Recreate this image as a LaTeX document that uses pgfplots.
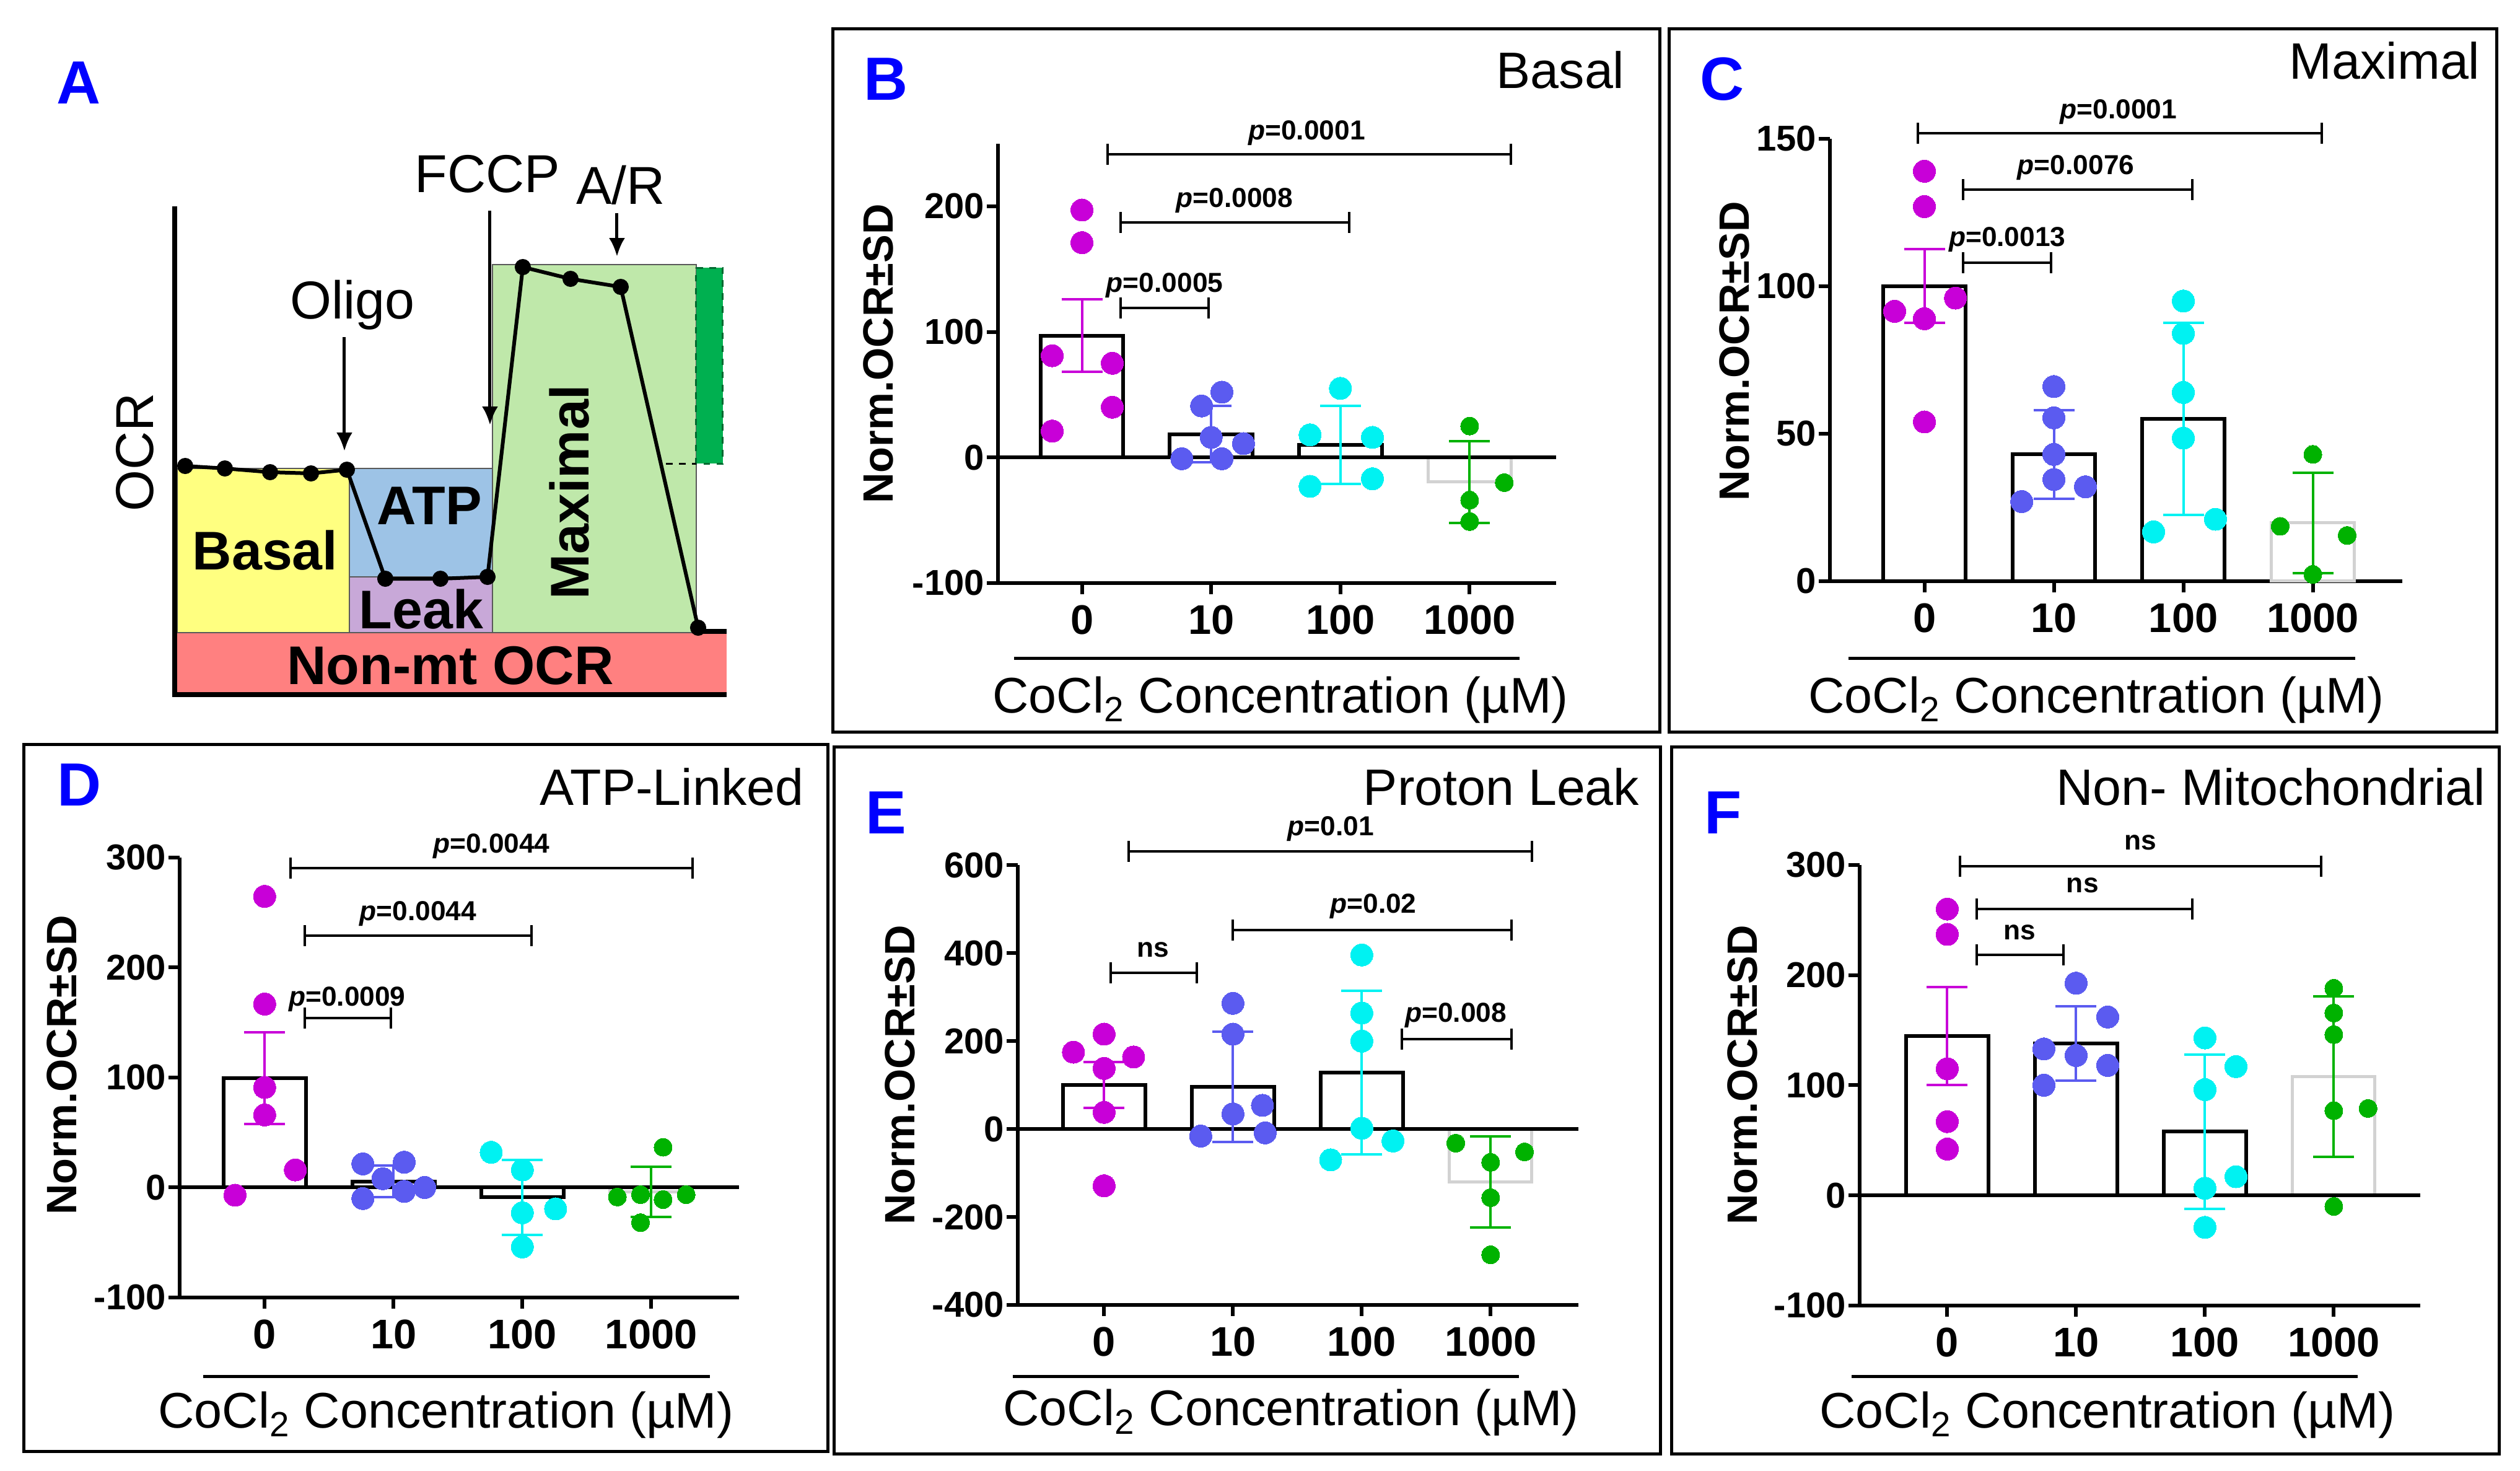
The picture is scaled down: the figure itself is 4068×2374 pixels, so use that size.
\documentclass[border=0pt]{standalone}
\usepackage{fontspec}
\setmainfont{Liberation Sans}
\usepackage{pgfplots}
\pgfplotsset{compat=1.18}
\usetikzlibrary{arrows.meta}
\newcommand{\fs}[1]{\fontsize{#1pt}{#1pt}\selectfont}
\definecolor{mag}{HTML}{C800D8}
\definecolor{blu}{HTML}{5B5BF0}
\definecolor{cya}{HTML}{00F2F2}
\definecolor{grn}{HTML}{00B200}
\definecolor{lgray}{HTML}{D2D2D2}
\definecolor{pblue}{HTML}{0000FF}
\definecolor{cnm}{HTML}{FF8080}
\definecolor{cbas}{HTML}{FFFF80}
\definecolor{catp}{HTML}{9DC3E6}
\definecolor{cleak}{HTML}{C8A8D8}
\definecolor{cmax}{HTML}{BFE8AA}
\definecolor{cdg}{HTML}{00B050}
\pgfplotsset{
 panel/.style={scale only axis, anchor=south west, clip=false,
  axis x line=bottom, axis y line=left,
  axis line style={-, line width=0.6mm, black},
  tick style={black, line width=0.6mm},
  major tick length=1.8mm, tick align=outside,
  xtick={0,1,2,3}, xticklabels={0,10,100,1000},
  xticklabel style={font=\fs{19}\bfseries, inner sep=5pt},
  yticklabel style={font=\fs{16.5}\bfseries, inner sep=1pt},
  minor tick num=0},
 mybar/.style={ybar, bar width=0.64, bar shift=0pt, fill=white, draw=black, line width=0.6mm, forget plot},
 graybar/.style={ybar, bar width=0.64, bar shift=0pt, fill=white, draw=lgray, line width=0.5mm, forget plot},
 dots/.style={only marks, mark=*, mark size=1.8mm, color=#1, mark options={solid, fill=#1, draw=#1, line width=0pt}, forget plot},
 gdots/.style={only marks, mark=*, mark size=1.45mm, color=#1, mark options={solid, fill=#1, draw=#1, line width=0pt}, forget plot},
 err/.style={draw=none, mark=none, forget plot, error bars/y dir=both, error bars/y explicit,
  error bars/error mark=|,
  error bars/error bar style={draw=#1, line width=0.4mm, solid},
  error bars/error mark options={draw=#1, line width=0.4mm, mark size=3.3mm, solid}},
 brk/.style={black, line width=0.4mm, mark=|, mark size=1.7mm, mark options={line width=0.4mm, solid}, forget plot},
 zline/.style={black, line width=0.6mm, forget plot},
}
\tikzset{
 ptxt/.style={anchor=base, inner sep=0pt, font=\fs{12.6}\bfseries},
 plet/.style={inner sep=0pt, font=\fs{28}\bfseries, text=pblue},
 ptit/.style={anchor=base east, inner sep=0pt, font=\fs{23.5}},
 ylab/.style={rotate=90, inner sep=0pt, font=\fs{19.5}\bfseries},
 xlab/.style={anchor=base, inner sep=0pt, font=\fs{23}},
 albl/.style={inner sep=0pt, font=\fs{24.5}},
 abox/.style={inner sep=0pt, font=\fs{25}\bfseries},
}
\newcommand{\ylabtext}{Norm.OCR±SD}
\newcommand{\xlabtext}{CoCl\textsubscript{2} Concentration (µM)}
\begin{document}
\begin{tikzpicture}[x=0.1mm, y=0.1mm]
\useasboundingbox (0,0) rectangle (4068,2374);

% ---------------- Panel A ----------------
\begin{axis}[at={(20mm,122.4mm)}, anchor=south west, scale only axis, width=105mm, height=85mm,
  xmin=200, xmax=1250, ymin=300, ymax=1150, y dir=reverse, hide axis, clip=false]
\addplot [fill=cnm, draw=none] coordinates {(286,1021) (1173,1021) (1173,1119) (286,1119)} -- cycle;
\addplot [fill=cbas, draw=gray!70!black, line width=0.25mm] coordinates {(286,756) (564,756) (564,1021) (286,1021)} -- cycle;
\addplot [fill=catp, draw=gray!70!black, line width=0.25mm] coordinates {(564,756) (795,756) (795,931) (564,931)} -- cycle;
\addplot [fill=cleak, draw=gray!70!black, line width=0.25mm] coordinates {(564,931) (795,931) (795,1021) (564,1021)} -- cycle;
\addplot [fill=cmax, draw=gray!70!black, line width=0.25mm] coordinates {(795,427) (1124,427) (1124,1021) (795,1021)} -- cycle;
\addplot [fill=cdg, draw=cdg!60!black, dashed, line width=0.3mm] coordinates {(1124,432) (1167,432) (1167,748) (1124,748)} -- cycle;
\addplot [black, dashed, line width=0.3mm] coordinates {(1075,748) (1124,748)};
\addplot [black, line width=0.8mm] coordinates {(282,333) (282,1121) (1173,1121)};
\addplot [black, line width=0.8mm] coordinates {(1124,1019) (1173,1019)};
\addplot [black, line width=0.6mm, mark=*, mark size=1mm, mark options={solid, fill=black}]
  coordinates {(299,752) (363,756) (436,762) (502,764) (560,758) (622,934) (711,934) (787,931) (844,431) (921,450) (1002,463) (1127,1013)};
\draw [black, line width=0.5mm, -{Latex[length=3mm, width=2.6mm]}] (axis cs:556,544) -- (axis cs:556,728);
\draw [black, line width=0.5mm, -{Latex[length=3mm, width=2.6mm]}] (axis cs:791,340) -- (axis cs:791,686);
\draw [black, line width=0.5mm, -{Latex[length=3mm, width=2.6mm]}] (axis cs:996,344) -- (axis cs:996,414);
\node [albl, anchor=base] at (axis cs:569,514) {Oligo};
\node [albl, anchor=base] at (axis cs:787,310) {FCCP};
\node [albl, anchor=base] at (axis cs:1002,329) {A/R};
\node [albl, rotate=90] at (axis cs:218,730) {OCR};
\node [abox] at (axis cs:428,888) {Basal};
\node [abox] at (axis cs:693,816) {ATP};
\node [abox] at (axis cs:680,983) {Leak};
\node [abox, rotate=90] at (axis cs:919,794) {Maximal};
\node [abox] at (axis cs:727,1074) {Non-mt OCR};
\end{axis}
\node [plet] at (127,2240) {A};

% ---------------- Panel B ----------------
\draw [line width=0.5mm] (1344,1192) rectangle (2679,2327);
\begin{axis}[panel, at={(161.1mm,143.3mm)}, width=90.12mm, height=70.95mm,
  xmin=-0.65, xmax=3.67, ymin=-100, ymax=250, ytick={-100,0,100,200}, yticklabels={-100,0,100,200}]
\addplot [mybar] coordinates {(0,97) (1,18.5) (2,10)};
\addplot [graybar] coordinates {(3,-19.5)};
\addplot [zline] coordinates {(-0.65,0) (3.67,0)};
\addplot [dots=mag] coordinates {(-0.23,21) (0,197) (0,171) (-0.23,81) (0.235,75) (0.235,40)};
\addplot [dots=blu] coordinates {(1.083,52) (0.926,41) (1,16) (1.25,11) (0.773,-1) (1.083,-1)};
\addplot [dots=cya] coordinates {(2,55) (1.765,18) (2.248,16) (1.765,-23) (2.248,-17)};
\addplot [gdots=grn] coordinates {(3,25) (3.268,-20) (3,-34) (3,-51)};
\addplot [err=mag] coordinates {(0,97) +- (0,29)};
\addplot [err=blu] coordinates {(1,18.5) +- (0,22.5)};
\addplot [err=cya] coordinates {(2,10) +- (0,31)};
\addplot [err=grn] coordinates {(3,-19.5) +- (0,32.5)};
\addplot [brk] coordinates {(0.2,241.5) (3.32,241.5)};
\addplot [brk] coordinates {(0.3,187) (2.07,187)};
\addplot [brk] coordinates {(0.3,119) (0.98,119)};
\node [ptxt] at (axis cs:1.74,253) {\textit{p}=0.0001};
\node [ptxt] at (axis cs:1.18,199) {\textit{p}=0.0008};
\node [ptxt] at (axis cs:0.64,131.6) {\textit{p}=0.0005};
\end{axis}
\node [plet] at (1430,2246) {B};
\node [ptit] at (2623,2231) {Basal};
\node [ylab] at (1418,1803) {\ylabtext};
\draw [line width=0.5mm] (1637,1311) -- (2453,1311);
\node [xlab] at (2067,1223) {\xlabtext};

% ---------------- Panel C ----------------
\draw [line width=0.5mm] (2694,1192) rectangle (4030,2327);
\begin{axis}[panel, at={(295.4mm,143.6mm)}, width=92.38mm, height=71.4mm,
  xmin=-0.73, xmax=3.69, ymin=0, ymax=150, ytick={0,50,100,150}, yticklabels={0,50,100,150}]
\addplot [mybar] coordinates {(0,100) (1,43) (2,55)};
\addplot [graybar] coordinates {(3,19.8)};
\addplot [dots=mag] coordinates {(0,139) (0,127) (0.24,96) (-0.23,91.5) (0,89) (0,54)};
\addplot [dots=blu] coordinates {(1,66) (1,55.4) (1,43) (1,34.5) (1.244,32) (0.752,27)};
\addplot [dots=cya] coordinates {(2,95) (2,84) (2,64) (2,48.5) (2.248,21) (1.77,16.7)};
\addplot [gdots=grn] coordinates {(3,43) (2.748,18.6) (3.265,15.5) (3,2.3)};
\addplot [err=mag] coordinates {(0,100) +- (0,12.5)};
\addplot [err=blu] coordinates {(1,43) +- (0,15)};
\addplot [err=cya] coordinates {(2,55) +- (0,32.5)};
\addplot [err=grn] coordinates {(3,19.8) +- (0,17)};
\addplot [brk] coordinates {(-0.05,151.9) (3.07,151.9)};
\addplot [brk] coordinates {(0.3,132.8) (2.07,132.8)};
\addplot [brk] coordinates {(0.3,108) (0.98,108)};
\node [ptxt] at (axis cs:1.5,156.8) {\textit{p}=0.0001};
\node [ptxt] at (axis cs:1.17,138) {\textit{p}=0.0076};
\node [ptxt] at (axis cs:0.64,113.5) {\textit{p}=0.0013};
\end{axis}
\node [plet] at (2780,2246) {C};
\node [ptit] at (4004,2246) {Maximal};
\node [ylab] at (2800,1807) {\ylabtext};
\draw [line width=0.5mm] (2984,1311) -- (3802,1311);
\node [xlab] at (3384,1223) {\xlabtext};

% ---------------- Panel D ----------------
\draw [line width=0.5mm] (38,31) rectangle (1336,1172);
\begin{axis}[panel, at={(29mm,28mm)}, width=90.27mm, height=71mm,
  xmin=-0.66, xmax=3.68, ymin=-100, ymax=300, ytick={-100,0,100,200,300}, yticklabels={-100,0,100,200,300}]
\addplot [mybar] coordinates {(0,99.5) (1,5.5) (2,-9)};
\addplot [graybar] coordinates {(3,-4)};
\addplot [zline] coordinates {(-0.66,0) (3.68,0)};
\addplot [dots=mag] coordinates {(0,264.7) (0,166.8) (0,91) (0,66) (0.238,16) (-0.23,-7)};
\addplot [dots=blu] coordinates {(0.762,21.5) (1.083,23) (0.917,8) (1.242,0) (0.762,-10) (1.083,-3.5)};
\addplot [dots=cya] coordinates {(1.758,32) (2,16) (2.258,-19.4) (2,-23) (2,-54)};
\addplot [gdots=grn] coordinates {(3.092,36.6) (2.737,-8.6) (2.917,-6.5) (3.092,-11) (3.271,-6.5) (2.917,-32)};
\addplot [err=mag] coordinates {(0,99.5) +- (0,41.5)};
\addplot [err=blu] coordinates {(1,5.5) +- (0,14.5)};
\addplot [err=cya] coordinates {(2,-9) +- (0,34)};
\addplot [err=grn] coordinates {(3,-4) +- (0,23)};
\addplot [brk] coordinates {(0.2,290.5) (3.32,290.5)};
\addplot [brk] coordinates {(0.31,229) (2.07,229)};
\addplot [brk] coordinates {(0.31,154) (0.98,154)};
\node [ptxt] at (axis cs:1.76,304) {\textit{p}=0.0044};
\node [ptxt] at (axis cs:1.19,243) {\textit{p}=0.0044};
\node [ptxt] at (axis cs:0.64,165) {\textit{p}=0.0009};
\end{axis}
\node [plet] at (128,1107) {D};
\node [ptit] at (1298,1074) {ATP-Linked};
\node [ylab] at (100,655) {\ylabtext};
\draw [line width=0.5mm] (328,152) -- (1146,152);
\node [xlab] at (720,69) {\xlabtext};

% ---------------- Panel E ----------------
\draw [line width=0.5mm] (1346,27) rectangle (2680,1168);
\begin{axis}[panel, at={(164.3mm,26.8mm)}, width=90.48mm, height=70.95mm,
  xmin=-0.67, xmax=3.68, ymin=-400, ymax=600, ytick={-400,-200,0,200,400,600}, yticklabels={-400,-200,0,200,400,600}]
\addplot [mybar] coordinates {(0,100) (1,95.5) (2,129)};
\addplot [graybar] coordinates {(3,-120)};
\addplot [zline] coordinates {(-0.67,0) (3.68,0)};
\addplot [dots=mag] coordinates {(0,216) (-0.238,175) (0.229,164) (0,138) (0,38) (0,-129)};
\addplot [dots=blu] coordinates {(1,286) (1,216) (1.229,54) (1,34.5) (0.75,-16) (1.25,-8.6)};
\addplot [dots=cya] coordinates {(2,396) (2,264) (2,200) (2,2) (2.242,-27) (1.758,-70)};
\addplot [gdots=grn] coordinates {(2.729,-32) (3.263,-52) (3,-75.5) (3,-156) (3,-286)};
\addplot [err=mag] coordinates {(0,100) +- (0,52)};
\addplot [err=blu] coordinates {(1,95.5) +- (0,125.5)};
\addplot [err=cya] coordinates {(2,129) +- (0,186)};
\addplot [err=grn] coordinates {(3,-120) +- (0,104)};
\addplot [brk] coordinates {(0.19,631) (3.32,631)};
\addplot [brk] coordinates {(1.0,453) (3.16,453)};
\addplot [brk] coordinates {(0.05,356) (0.72,356)};
\addplot [brk] coordinates {(2.31,205) (3.16,205)};
\node [ptxt] at (axis cs:1.76,667) {\textit{p}=0.01};
\node [ptxt] at (axis cs:2.09,491) {\textit{p}=0.02};
\node [ptxt] at (axis cs:0.38,391) {ns};
\node [ptxt] at (axis cs:2.73,243) {\textit{p}=0.008};
\end{axis}
\node [plet] at (1430,1062) {E};
\node [ptit] at (2647,1074) {Proton Leak};
\node [ylab] at (1453,639) {\ylabtext};
\draw [line width=0.5mm] (1635,152) -- (2452,152);
\node [xlab] at (2084,73) {\xlabtext};

% ---------------- Panel F ----------------
\draw [line width=0.5mm] (2698,27) rectangle (4034,1168);
\begin{axis}[panel, at={(300.2mm,26.7mm)}, width=90.48mm, height=71.1mm,
  xmin=-0.68, xmax=3.67, ymin=-100, ymax=300, ytick={-100,0,100,200,300}, yticklabels={-100,0,100,200,300}]
\addplot [mybar] coordinates {(0,144.5) (1,138) (2,58)};
\addplot [graybar] coordinates {(3,108)};
\addplot [zline] coordinates {(-0.68,0) (3.67,0)};
\addplot [dots=mag] coordinates {(0,260) (0,237) (0,115) (0,67) (0,42)};
\addplot [dots=blu] coordinates {(1,192.7) (1.245,162) (0.75,133) (1,127) (1.245,118) (0.75,100)};
\addplot [dots=cya] coordinates {(2,143) (2.241,117) (2,96) (2.241,17) (2,6.5) (2,-29)};
\addplot [gdots=grn] coordinates {(3,188) (3,165.6) (3,146) (3,77) (3.266,79) (3,-10)};
\addplot [err=mag] coordinates {(0,144.5) +- (0,44.5)};
\addplot [err=blu] coordinates {(1,138) +- (0,34)};
\addplot [err=cya] coordinates {(2,58) +- (0,70)};
\addplot [err=grn] coordinates {(3,108) +- (0,73)};
\addplot [brk] coordinates {(0.1,299) (2.9,299)};
\addplot [brk] coordinates {(0.23,260) (1.9,260)};
\addplot [brk] coordinates {(0.23,218.5) (0.9,218.5)};
\node [ptxt] at (axis cs:1.5,314) {ns};
\node [ptxt] at (axis cs:1.05,275) {ns};
\node [ptxt] at (axis cs:0.56,232) {ns};
\end{axis}
\node [plet] at (2782,1062) {F};
\node [ptit] at (4013,1074) {Non- Mitochondrial};
\node [ylab] at (2813,639) {\ylabtext};
\draw [line width=0.5mm] (2989,152) -- (3806,152);
\node [xlab] at (3402,69) {\xlabtext};
\end{tikzpicture}
\end{document}
